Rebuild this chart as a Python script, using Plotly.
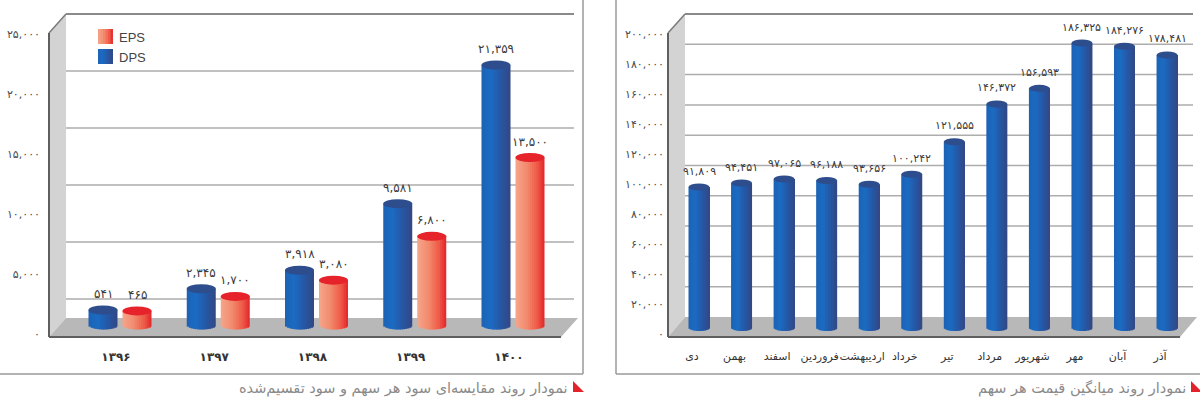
import math
import plotly.graph_objects as go

# ---------------- data ----------------
years = ["۱۳۹۶", "۱۳۹۷", "۱۳۹۸", "۱۳۹۹", "۱۴۰۰"]
dps = [541, 2345, 3918, 9581, 21359]
eps = [465, 1700, 3080, 6800, 13500]
left_ticks = [0, 5000, 10000, 15000, 20000, 25000]

months = ["دی", "بهمن", "اسفند", "فروردین", "اردیبهشت", "خرداد",
          "تیر", "مرداد", "شهریور", "مهر", "آبان", "آذر"]
price = [91809, 94451, 97065, 96188, 93656, 100242,
         121555, 146372, 156593, 186325, 184276, 178481]
right_ticks = [0, 20000, 40000, 60000, 80000, 100000,
               120000, 140000, 160000, 180000, 200000]

legend_names = ["EPS", "DPS"]
title_left = "نمودار روند مقایسه‌ای سود هر سهم و سود تقسیم‌شده"
title_right = "نمودار روند میانگین قیمت هر سهم"

# ---------------- styling / geometry ----------------
W_PX, H_PX = 1200, 401
FONT_FA = "DejaVu Sans"
FONT_EN = "Liberation Sans"

BLUE_STOPS = [(0.0, "#1c62b4"), (0.3, "#1b6cc4"), (0.65, "#2558a6"), (1.0, "#344783")]
BLUE_TOP = "#2d4d8c"
RED_STOPS = [(0.0, "#f6a68c"), (0.4, "#f2896c"), (0.75, "#ee5a47"), (1.0, "#e2232b")]
RED_TOP = "#e6222a"

L = dict(xdom=(49, 580), first=120, step=98.25, ydom=(10, 340),
         zero=316.4, k=0.01177, lzero=334, lk=0.012,
         barw=29, pair=17, basepx=325, eh=4.5,
         wall_front=49, wall_back=66, top_front=33, top_back=14,
         floor_back=318, floor_front=337, back_right=574,
         floor_br=578, floor_fr=561, grid_step=57, grid_n=5)
R = dict(xdom=(668, 1197), first=699, step=42.55, ydom=(10, 340),
         zero=327, k=0.001524, lzero=334, lk=0.0015,
         barw=21, basepx=327.5, eh=3.5,
         wall_front=668, wall_back=685, top_front=33, top_back=14,
         floor_back=317, floor_front=337, back_right=1193,
         floor_br=1197, floor_fr=1180, grid_step=30.3, grid_n=9)

FA_DIGITS = str.maketrans("0123456789", "۰۱۲۳۴۵۶۷۸۹")


def fa(n):
    return f"{n:,}".translate(FA_DIGITS)


def px(x):
    return x / W_PX


def py(y):
    return 1 - y / H_PX


def hex2rgb(h):
    return tuple(int(h[i:i + 2], 16) for i in (1, 3, 5))


def interp(stops, t):
    for (t0, c0), (t1, c1) in zip(stops[:-1], stops[1:]):
        if t <= t1:
            f = (t - t0) / (t1 - t0) if t1 > t0 else 0
            a, b = hex2rgb(c0), hex2rgb(c1)
            return "rgb(%d,%d,%d)" % tuple(round(a[i] + (b[i] - a[i]) * f) for i in range(3))
    return "rgb(%d,%d,%d)" % hex2rgb(stops[-1][1])


def xrange_for(g):
    return [(g["xdom"][0] - g["first"]) / g["step"], (g["xdom"][1] - g["first"]) / g["step"]]


def yrange_for(dom, zero, k):
    return [(zero - dom[1]) / k, (zero - dom[0]) / k]


fig = go.Figure()
shapes = []
annotations = []


def add_cylinders(xs, vals, g, xa, ya, stops, topcolor, n=14, lblsize=12):
    width_u = g["barw"] / g["step"]
    base_u = (g["zero"] - g["basepx"]) / g["k"]
    eh_u = g["eh"] / g["k"]
    for j in range(n):
        t0 = j / n
        tc = (j + 0.5) / n
        rel = 2 * tc - 1
        base = base_u - eh_u * math.sqrt(max(0.0, 1 - rel * rel))
        off = -width_u / 2 + t0 * width_u
        w = width_u / n * (1.6 if j < n - 1 else 1.0)
        fig.add_trace(go.Bar(
            x=xs, y=[v - base for v in vals], base=base, offset=off, width=w,
            marker=dict(color=interp(stops, tc), line=dict(width=0)), opacity=1,
            xaxis=xa, yaxis=ya, showlegend=False, hoverinfo="skip"))
    for x, v in zip(xs, vals):
        shapes.append(dict(type="circle", xref=xa, yref=ya,
                           x0=x - width_u / 2, x1=x + width_u / 2,
                           y0=v - eh_u, y1=v + eh_u,
                           fillcolor=topcolor, line=dict(width=0), layer="above"))
        annotations.append(dict(x=x, y=v, xref=xa, yref=ya, text=fa(v),
                                showarrow=False, yshift=16,
                                font=dict(family=FONT_FA, size=lblsize, color="#3a3a3a")))


def add_walls(g):
    wf, wb = g["wall_front"], g["wall_back"]
    shapes.append(dict(type="path", xref="paper", yref="paper", layer="below",
                       path=f"M {px(wf)} {py(g['top_front'])} L {px(wb)} {py(g['top_back'])} "
                            f"L {px(wb)} {py(g['floor_back'])} L {px(wf)} {py(g['floor_front'])} Z",
                       fillcolor="#d3d3d3", line=dict(width=0)))
    for i in range(1, g["grid_n"] + 1):
        yy = g["top_back"] + g["grid_step"] * i
        shapes.append(dict(type="line", xref="paper", yref="paper", layer="below",
                           x0=px(wb), x1=px(g["back_right"]), y0=py(yy), y1=py(yy),
                           line=dict(color="#adadad", width=1.5)))
    shapes.append(dict(type="line", xref="paper", yref="paper", layer="below",
                       x0=px(wb), x1=px(g["back_right"]), y0=py(g["top_back"]), y1=py(g["top_back"]),
                       line=dict(color="#8a8a8a", width=2)))
    shapes.append(dict(type="line", xref="paper", yref="paper", layer="below",
                       x0=px(wf), x1=px(wb), y0=py(g["top_front"]), y1=py(g["top_back"]),
                       line=dict(color="#7a7a7a", width=1.5)))
    shapes.append(dict(type="path", xref="paper", yref="paper", layer="below",
                       path=f"M {px(wf)} {py(g['floor_front'])} L {px(wb)} {py(g['floor_back'])} "
                            f"L {px(g['floor_br'])} {py(g['floor_back'])} L {px(g['floor_fr'])} {py(g['floor_front'])} Z",
                       fillcolor="#b8b8b8", line=dict(width=0)))
    shapes.append(dict(type="line", xref="paper", yref="paper", layer="below",
                       x0=px(wf), x1=px(g["floor_fr"]), y0=py(g["floor_front"]), y1=py(g["floor_front"]),
                       line=dict(color="#5f5f5f", width=2)))
    shapes.append(dict(type="line", xref="paper", yref="paper", layer="below",
                       x0=px(wf), x1=px(wf), y0=py(g["top_front"]), y1=py(g["floor_front"]),
                       line=dict(color="#5f5f5f", width=2)))


frame = dict(color="#9a9a9a", width=1.5)
shapes += [
    dict(type="line", xref="paper", yref="paper", layer="below", x0=px(583), x1=px(583), y0=py(0), y1=py(374), line=frame),
    dict(type="line", xref="paper", yref="paper", layer="below", x0=px(0), x1=px(583), y0=py(374), y1=py(374), line=frame),
    dict(type="line", xref="paper", yref="paper", layer="below", x0=px(616), x1=px(616), y0=py(0), y1=py(374), line=frame),
    dict(type="line", xref="paper", yref="paper", layer="below", x0=px(616), x1=px(1200), y0=py(374), y1=py(374), line=frame),
]

add_walls(L)
add_walls(R)

xs_dps = [i - L["pair"] / L["step"] for i in range(len(years))]
xs_eps = [i + L["pair"] / L["step"] for i in range(len(years))]
add_cylinders(xs_dps, dps, L, "x", "y", BLUE_STOPS, BLUE_TOP)
add_cylinders(xs_eps, eps, L, "x", "y", RED_STOPS, RED_TOP)
add_cylinders(list(range(len(months))), price, R, "x2", "y2", BLUE_STOPS, BLUE_TOP, lblsize=11)

# invisible carriers so the tick-label axes are drawn
fig.add_trace(go.Scatter(x=[0] * len(left_ticks), y=left_ticks, mode="none",
                         xaxis="x", yaxis="y3", showlegend=False, hoverinfo="skip"))
fig.add_trace(go.Scatter(x=[0] * len(right_ticks), y=right_ticks, mode="none",
                         xaxis="x2", yaxis="y4", showlegend=False, hoverinfo="skip"))

for k_, (name, stops) in enumerate(zip(legend_names, [RED_STOPS, BLUE_STOPS])):
    y0 = 29 + 20 * k_
    ns = 6
    for s in range(ns):
        xa0 = 98 + 15 * s / ns
        xa1 = 98 + 15 * (s + 1) / ns + (0.6 if s < ns - 1 else 0)
        shapes.append(dict(type="rect", xref="paper", yref="paper", layer="above",
                           x0=px(xa0), x1=px(xa1), y0=py(y0 + 15), y1=py(y0),
                           fillcolor=interp(stops, (s + 0.5) / ns), line=dict(width=0)))
    annotations.append(dict(x=px(117), y=py(y0 + 8), xref="paper", yref="paper", text=name,
                            xanchor="left", yanchor="middle", showarrow=False,
                            font=dict(family=FONT_EN, size=13, color="#444")))

for xr, txt in [(570, title_left), (1188, title_right)]:
    annotations.append(dict(x=px(xr), y=py(388), xref="paper", yref="paper", text=txt,
                            xanchor="right", yanchor="middle", showarrow=False,
                            font=dict(family=FONT_FA, size=14.5, color="#8a8a8a")))
    tx = xr + 3
    shapes.append(dict(type="path", xref="paper", yref="paper", layer="above",
                       path=f"M {px(tx)} {py(381)} L {px(tx)} {py(392)} L {px(tx + 11)} {py(392)} Z",
                       fillcolor="#e3232b", line=dict(width=0)))

tickfont_y = dict(family=FONT_FA, size=11, color="#4a4a4a")
common_x = dict(showgrid=False, zeroline=False, showline=False, ticks="", fixedrange=True, tickangle=0)

fig.update_layout(
    width=W_PX, height=H_PX,
    margin=dict(l=0, r=0, t=0, b=0),
    paper_bgcolor="white", plot_bgcolor="rgba(0,0,0,0)",
    barmode="overlay", showlegend=False,
    shapes=shapes, annotations=annotations,
    xaxis=dict(domain=[px(L["xdom"][0]), px(L["xdom"][1])], range=xrange_for(L), anchor="y",
               tickvals=list(range(len(years))), ticktext=[f"<b>{y}</b>" for y in years],
               tickfont=dict(family=FONT_FA, size=12, color="#333"),
               ticklabelstandoff=8, ticklabelshift=-4, **common_x),
    yaxis=dict(domain=[py(L["ydom"][1]), py(L["ydom"][0])], anchor="x",
               range=yrange_for(L["ydom"], L["zero"], L["k"]), visible=False, fixedrange=True),
    yaxis3=dict(overlaying="y", anchor="x", side="left",
                range=yrange_for(L["ydom"], L["lzero"], L["lk"]),
                tickvals=left_ticks, ticktext=[fa(t) for t in left_ticks],
                tickfont=tickfont_y, showgrid=False, zeroline=False, showline=False,
                ticks="", ticklabelstandoff=8, fixedrange=True),
    xaxis2=dict(domain=[px(R["xdom"][0]), px(R["xdom"][1])], range=xrange_for(R), anchor="y2",
                tickvals=list(range(len(months))), ticktext=months,
                tickfont=dict(family=FONT_FA, size=11, color="#333"),
                ticklabelstandoff=8, ticklabelshift=-7, **common_x),
    yaxis2=dict(domain=[py(R["ydom"][1]), py(R["ydom"][0])], anchor="x2",
                range=yrange_for(R["ydom"], R["zero"], R["k"]), visible=False, fixedrange=True),
    yaxis4=dict(overlaying="y2", anchor="x2", side="left",
                range=yrange_for(R["ydom"], R["lzero"], R["lk"]),
                tickvals=right_ticks, ticktext=[fa(t) for t in right_ticks],
                tickfont=tickfont_y, showgrid=False, zeroline=False, showline=False,
                ticks="", ticklabelstandoff=3, fixedrange=True),
)

fig.write_html("out.html", config={"displayModeBar": False},
               post_script="document.body.style.margin='0';document.body.style.padding='0';")
